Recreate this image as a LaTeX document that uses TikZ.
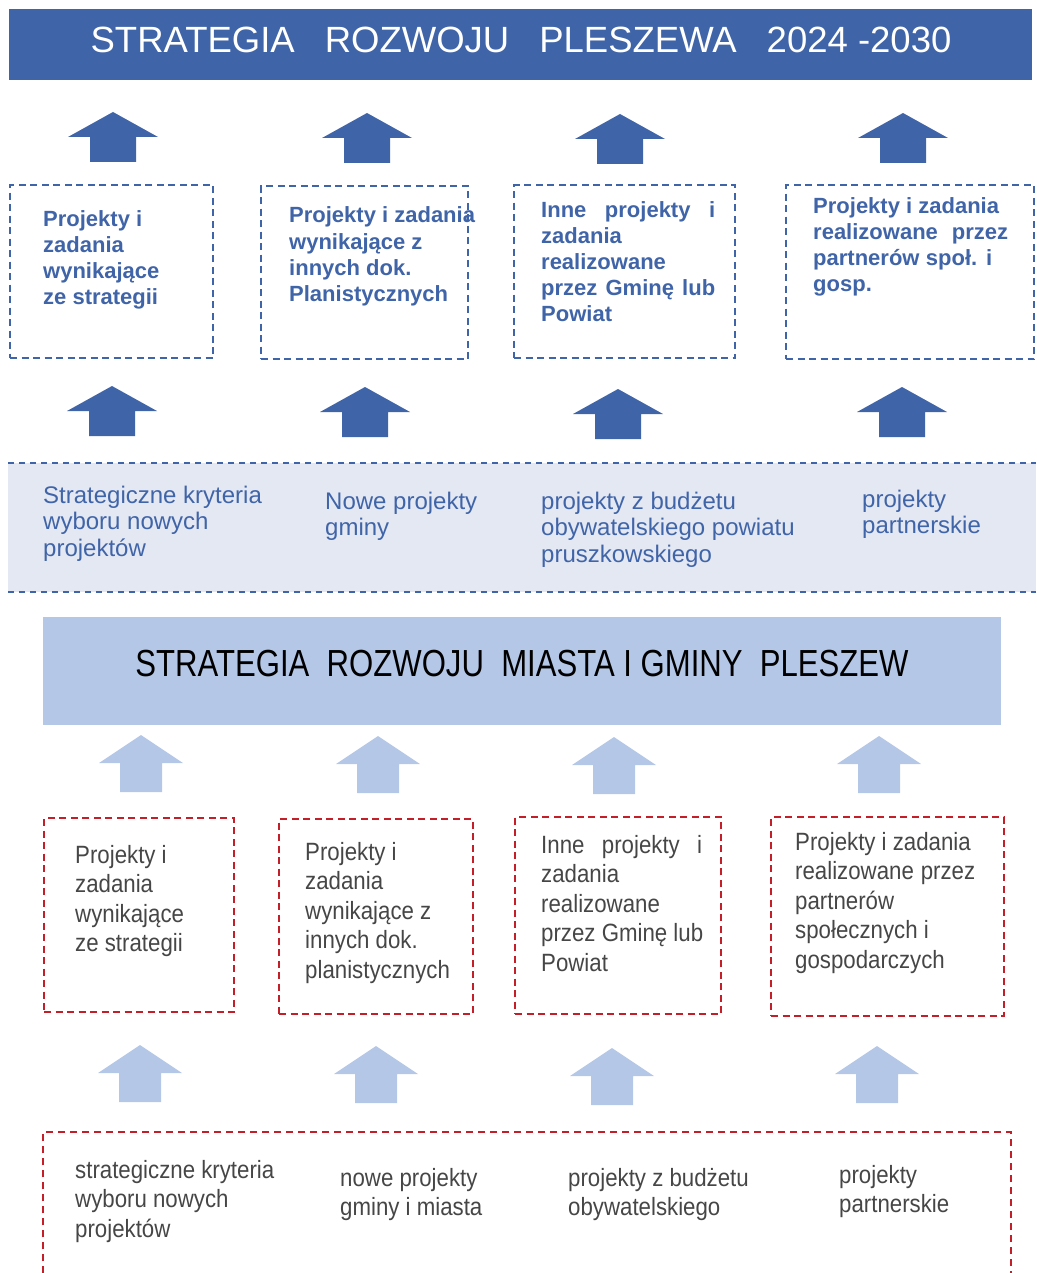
\documentclass[tikz,border=0pt]{standalone}
\usepackage{fontspec}
\setmainfont{Liberation Sans}
\newfontfamily\narrowfont[FakeStretch=0.825]{Liberation Sans}
\newfontfamily\greyfont[FakeStretch=0.89]{Liberation Sans}
\usetikzlibrary{positioning}
\definecolor{pblue}{RGB}{64,100,168}
\definecolor{plight}{RGB}{180,199,231}
\definecolor{pband}{RGB}{227,232,242}
\definecolor{pred}{RGB}{196,30,40}
\definecolor{pgrey}{RGB}{70,70,70}
\tikzset{%
	bdash/.style = {draw = pblue, line width = 2.4pt, dash pattern = on 7pt off 4.5pt},
	rdash/.style = {draw = pred, line width = 2.4pt, dash pattern = on 7pt off 4.5pt},
	ubox/.style = {name = #1, anchor = north west, inner sep = 0pt},
	utxt/.style = {name = #1, anchor = base west, inner sep = 0pt, align = left, text = pblue, font = \fontsize{22}{26}\selectfont\bfseries},
	btxt/.style = {name = #1, anchor = base west, inner sep = 0pt, align = left, text = pblue, font = \fontsize{24}{26.5}\selectfont},
	ltxt/.style = {name = #1, anchor = base west, inner sep = 0pt, align = left, text = pgrey, font = \greyfont\fontsize{25}{29.5}\selectfont},
	darkarr/.pic = {\fill [pblue] (-23,0) -- (-23,-25) -- (-45,-25) -- (0,-50) -- (45,-25) -- (23,-25) -- (23,0) -- cycle;},
	lightarr/.pic = {\fill [plight] (-21,0) -- (-21,-29) -- (-42,-29) -- (0,-57) -- (42,-29) -- (21,-29) -- (21,0) -- cycle;}
}
\begin{document}
\begin{tikzpicture}[x = 1pt, y = -1pt]
		\useasboundingbox (0,0) rectangle (1036,1273);
		\node [ubox = {head}, fill = pblue, minimum width = 1023pt, minimum height = 71pt] at (9,9) {};
		\node [name = headtxt, anchor = base, inner sep = 0pt, text = white, font = \fontsize{36.5}{40}\selectfont] at (521,53) {STRATEGIA\hspace{30pt}ROZWOJU\hspace{30pt}PLESZEWA\hspace{30pt}2024 -2030};
		\pic at (113,162) {darkarr};
		\pic at (367,163) {darkarr};
		\pic at (620,164) {darkarr};
		\pic at (903,163) {darkarr};
		\node [ubox = {u1}, bdash, minimum width = 203pt, minimum height = 173pt] at (9,184) {};
		\node [ubox = {u2}, bdash, minimum width = 207pt, minimum height = 173pt] at (260,185) {};
		\node [ubox = {u3}, bdash, minimum width = 221pt, minimum height = 173pt] at (513,184) {};
		\node [ubox = {u4}, bdash, minimum width = 248pt, minimum height = 174pt] at (785,184) {};
		\node [utxt = {ut1}] at (43,304) {Projekty i\\zadania\\wynikające\\ze strategii};
		\node [utxt = {ut2}] at (289,301) {Projekty i zadania\\wynikające z\\innych dok.\\Planistycznych};
		\node [utxt = {ut3}] at (541,321) {\makebox[174pt][s]{Inne projekty i}\\zadania\\realizowane\\\makebox[174pt][s]{przez Gminę lub}\\Powiat};
		\node [utxt = {ut4}] at (813,291) {Projekty i zadania\\\makebox[195pt][s]{realizowane przez}\\\makebox[179pt][s]{partnerów społ. i}\\gosp.};
		\pic at (112,436) {darkarr};
		\pic at (365,437) {darkarr};
		\pic at (618,439) {darkarr};
		\pic at (902,437) {darkarr};
		\node [ubox = {band}, fill = pband, minimum width = 1028pt, minimum height = 129pt] at (8,463) {};
		\draw [draw = pblue, line width = 2pt, dash pattern = on 6pt off 5pt] (band.north west) -- (band.north east);
		\draw [draw = pblue, line width = 2pt, dash pattern = on 6pt off 5pt] (band.south west) -- (band.south east);
		\node [btxt = {bt1}] at (43,556) {Strategiczne kryteria\\wyboru nowych\\projektów};
		\node [btxt = {bt2}] at (325,535.5) {Nowe projekty\\gminy};
		\node [btxt = {bt3}] at (541,562) {projekty z budżetu\\obywatelskiego powiatu\\pruszkowskiego};
		\node [btxt = {bt4}] at (862,533.5) {projekty\\partnerskie};
		\node [ubox = {mid}, fill = plight, minimum width = 958pt, minimum height = 108pt] at (43,617) {};
		\node [name = midtxt, anchor = base, inner sep = 0pt, font = \narrowfont\fontsize{37.7}{40}\selectfont] at (522,676) {STRATEGIA\ \ ROZWOJU\ \ MIASTA I GMINY\ \ PLESZEW};
		\pic at (141,792) {lightarr};
		\pic at (378,793) {lightarr};
		\pic at (614,794) {lightarr};
		\pic at (879,793) {lightarr};
		\node [ubox = {l1}, rdash, minimum width = 190pt, minimum height = 194pt] at (43,817) {};
		\node [ubox = {l2}, rdash, minimum width = 194pt, minimum height = 195pt] at (278,818) {};
		\node [ubox = {l3}, rdash, minimum width = 206pt, minimum height = 197pt] at (514,816) {};
		\node [ubox = {l4}, rdash, minimum width = 233pt, minimum height = 199pt] at (770,816) {};
		\node [ltxt = {lt1}] at (75,951.5) {Projekty i\\zadania\\wynikające\\ze strategii};
		\node [ltxt = {lt2}] at (305,978) {Projekty i\\zadania\\wynikające z\\innych dok.\\planistycznych};
		\node [ltxt = {lt3}] at (541,971) {\makebox[161pt][s]{Inne projekty i}\\zadania\\realizowane\\\makebox[162pt][s]{przez Gminę lub}\\Powiat};
		\node [ltxt = {lt4}] at (795,968) {Projekty i zadania\\\makebox[180pt][s]{realizowane przez}\\partnerów\\społecznych i\\gospodarczych};
		\pic at (140,1102) {lightarr};
		\pic at (376,1103) {lightarr};
		\pic at (612,1105) {lightarr};
		\pic at (877,1103) {lightarr};
		\coordinate (bl) at (43,1273);
		\coordinate (br) at (1011,1273);
		\draw [draw = pred, line width = 2pt, dash pattern = on 7pt off 5pt] (bl) |- (1011,1132) -- (br);
		\node [ltxt = {bt5}] at (75,1237) {strategiczne kryteria\\wyboru nowych\\projektów};
		\node [ltxt = {bt6}] at (340,1215.5) {nowe projekty\\gminy i miasta};
		\node [ltxt = {bt7}] at (568,1215.5) {projekty z budżetu\\obywatelskiego};
		\node [ltxt = {bt8}] at (839,1212.5) {projekty\\partnerskie};
		\end{tikzpicture}
\end{document}
